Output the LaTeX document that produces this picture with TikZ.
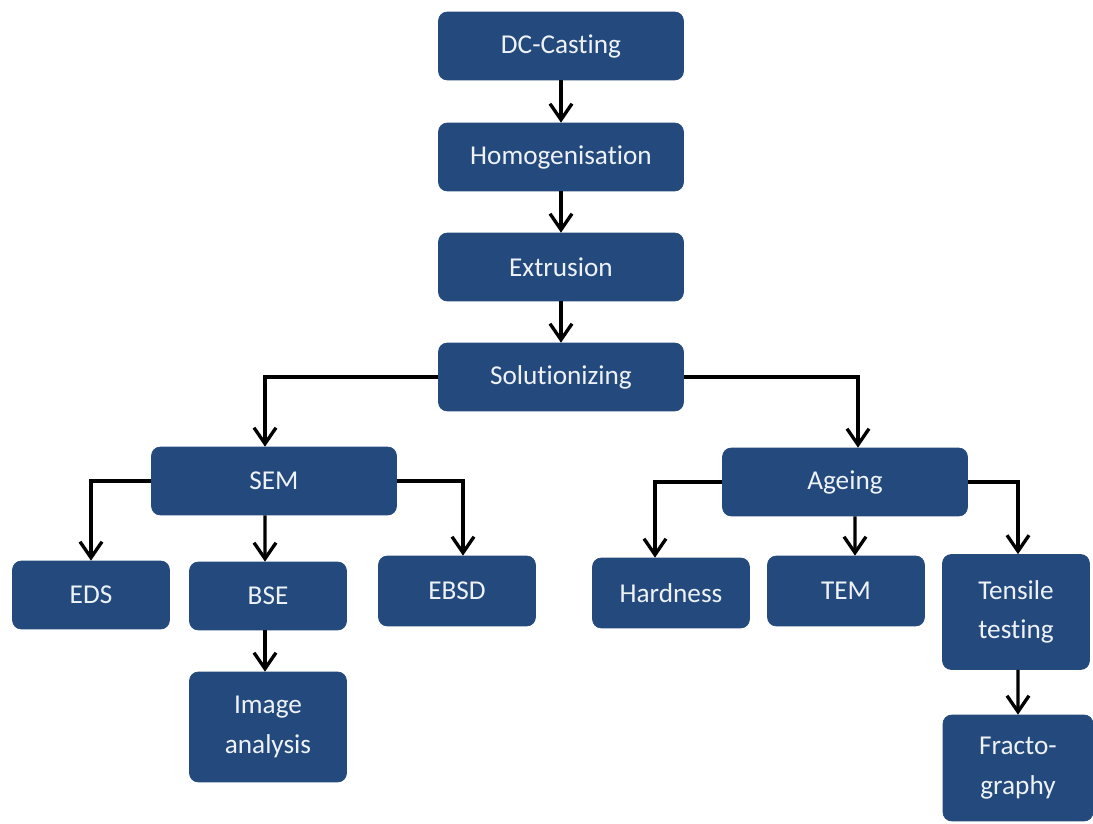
\documentclass[tikz,border=0pt]{standalone}
\usepackage{fontspec}
\setmainfont{Carlito}[Ligatures=NoCommon]
\usepackage{tikz}
\usetikzlibrary{arrows.meta, positioning}
\usepackage{xcolor}
\definecolor{boxblue}{HTML}{244A7D}
\definecolor{boxtext}{HTML}{EEF2F7}

\begin{document}
\begin{tikzpicture}[
  x=0.02cm, y=-0.02cm,
  box/.style={draw=boxblue, fill=boxblue, rounded corners=5pt, text=boxtext,
    font=\fontsize{15.5}{22.5}\selectfont, align=center, inner sep=2pt},
  wide/.style={box, minimum width=4.9cm, minimum height=1.36cm},
  small/.style={box, minimum width=3.14cm, minimum height=1.36cm},
  arr/.style={->, line width=1.9pt},
  >={Straight Barb[length=3.2mm, width=4.4mm]}
]
  \useasboundingbox (0,0) rectangle (1093,824);

  % Process chain
  \foreach \n/\t/\y in {cast/DC-Casting/46, homog/Homogenisation/157,
    extr/Extrusion/267, solut/Solutionizing/377} {
    \node[wide] (\n) at (561,\y) {\t};
  }

  % Second level
  \node[wide] (sem) at (274,481) {SEM};
  \node[wide] (age) at (845,482) {Ageing};

  % SEM branch
  \node[small] (eds) at (91,595) {EDS};
  \node[small] (bse) at (268,596) {BSE};
  \node[small, minimum height=1.4cm] (ebsd) at (457,591) {EBSD};
  \node[small, minimum height=2.2cm] (img) at (268,727) {Image\\analysis};

  % Ageing branch
  \node[small, minimum height=1.4cm] (hard) at (671,593) {Hardness};
  \node[small, minimum height=1.4cm] (tem) at (846,591) {TEM};
  \node[small, minimum width=2.94cm, minimum height=2.3cm] (tens) at (1016,612) {Tensile\\testing};
  \node[small, minimum width=3.0cm, minimum height=2.12cm] (frac) at (1018,768) {Fracto-\\graphy};

  % Connections
  \draw[arr] (cast) -- (homog);
  \draw[arr] (homog) -- (extr);
  \draw[arr] (extr) -- (solut);
  \draw[arr] (solut.west) -| ([xshift=-0.18cm]sem.north);
  \draw[arr] (solut.east) -| ([xshift=0.26cm]age.north);

  \draw[arr] (sem.west) -| (eds.north);
  \draw[arr] ([xshift=-0.18cm]sem.south) -- ([xshift=-0.06cm]bse.north);
  \draw[arr] (sem.east) -| ([xshift=0.12cm]ebsd.north);
  \draw[arr] ([xshift=-0.06cm]bse.south) -- ([xshift=-0.06cm]img.north);

  \draw[arr] (age.west) -| ([xshift=-0.32cm]hard.north);
  \draw[arr] ([xshift=0.2cm]age.south) -- ([xshift=0.18cm]tem.north);
  \draw[arr] (age.east) -| ([xshift=0.04cm]tens.north);
  \draw[arr] ([xshift=0.04cm]tens.south) -- (frac.north);
\end{tikzpicture}
\end{document}
